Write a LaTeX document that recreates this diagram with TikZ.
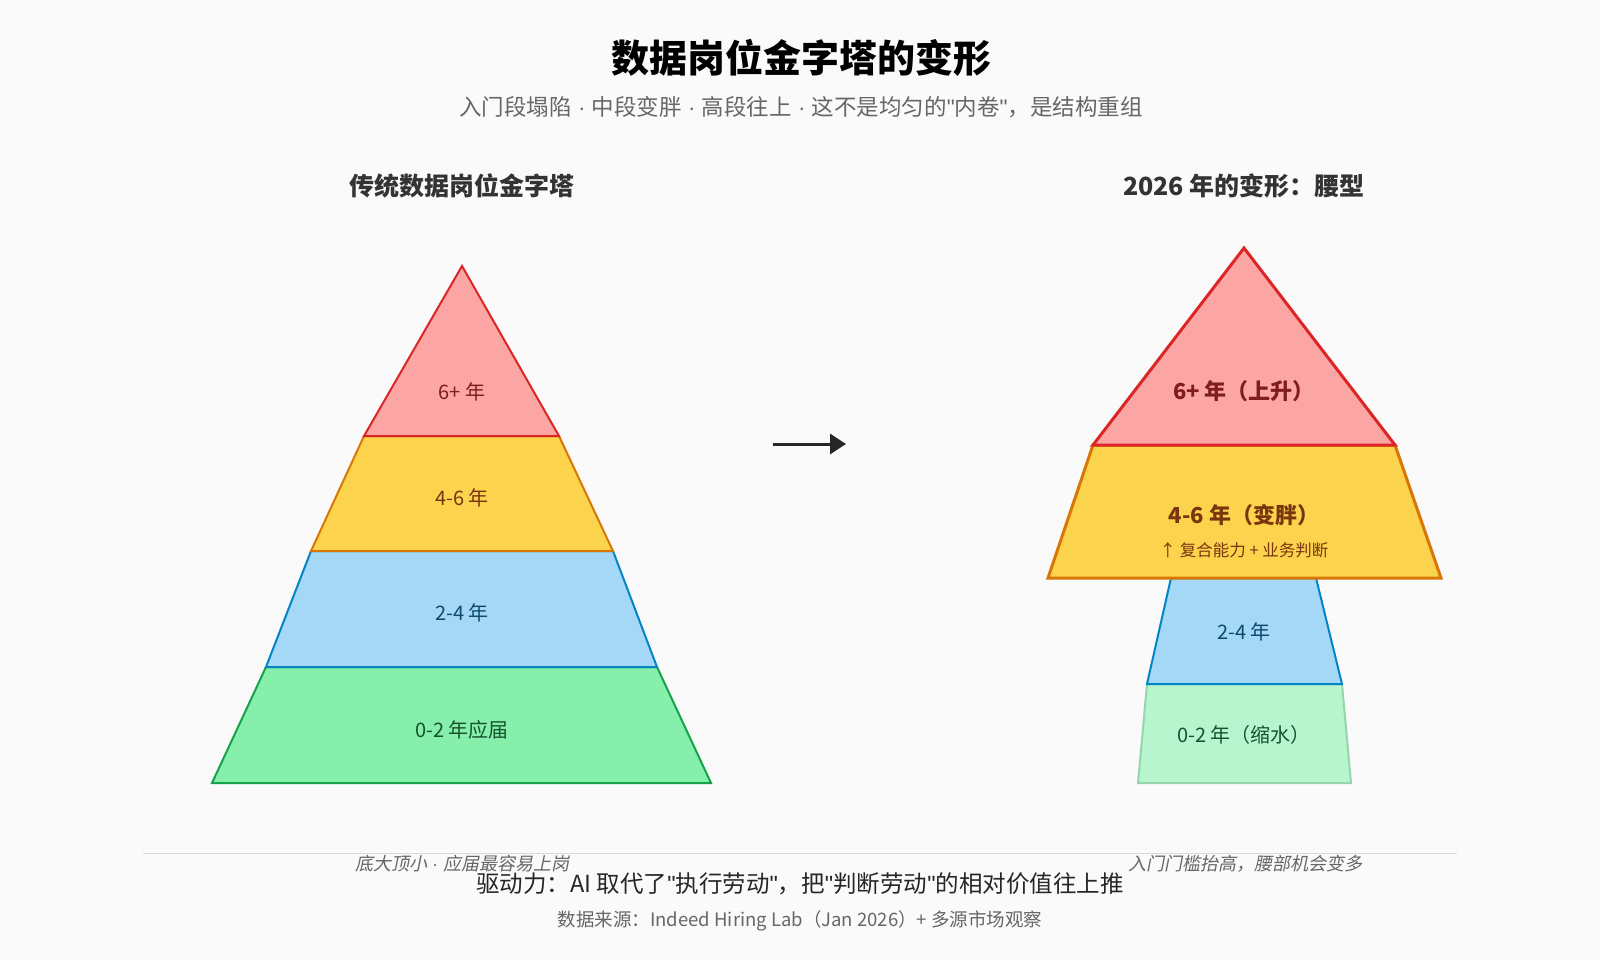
\documentclass[tikz,border=0pt]{standalone}
\usepackage{fontspec}
\setmainfont{Noto Sans CJK SC}
\newfontfamily\slantfont[FakeSlant=0.2]{Noto Sans CJK SC}
\newfontfamily\latinfont{Liberation Sans}
\newcommand\qt{{\latinfont\symbol{34}}}
\newcommand\mdot{{\latinfont\ \textperiodcentered\ }}
\usetikzlibrary{arrows.meta}
\definecolor{bgc}{HTML}{FAFAFA}
\definecolor{redf}{HTML}{FCA5A5}\definecolor{redd}{HTML}{DC2626}\definecolor{redt}{HTML}{7F1D1D}
\definecolor{yelf}{HTML}{FCD34D}\definecolor{yeld}{HTML}{D97706}\definecolor{yelt}{HTML}{78350F}
\definecolor{bluf}{HTML}{A5D8F7}\definecolor{blud}{HTML}{0284C7}\definecolor{blut}{HTML}{0C4A6E}
\definecolor{grnf}{HTML}{86EFAC}\definecolor{grnd}{HTML}{16A34A}\definecolor{grnt}{HTML}{14532D}
\definecolor{greyt}{HTML}{666666}
\tikzset{
  layer/.style={line width=2pt, line join=miter},
  lbl/.style={font=\fontsize{20}{24}\selectfont},
  head/.style={font=\fontsize{25}{29}\selectfont\bfseries, text=black!80},
  note/.style={font=\fontsize{18}{22}\selectfont\slantfont, text=greyt},
}
\begin{document}
\begin{tikzpicture}[x=1pt, y=-1pt]

	% === FRAME === (((
	\fill[bgc] (0,0) rectangle (1600,960);
	\useasboundingbox (0,0) rectangle (1600,960);
	% )))

	% === TITLES === (((
	\node[font=\fontsize{38}{42}\selectfont\bfseries] (title) at (801,58) {数据岗位金字塔的变形};
	\node[font=\fontsize{22.5}{26}\selectfont, text=greyt] (sub) at (801,107) {入门段塌陷\mdot 中段变胖\mdot 高段往上\mdot 这不是均匀的\qt 内卷\qt ，是结构重组};
	\node[head] (lhead) at (462,186) {传统数据岗位金字塔};
	\node[head] (rhead) at (1244,186) {2026 年的变形：腰型};
	% )))

	% === LEFT PYRAMID === (((
	\filldraw[layer, fill=grnf, draw=grnd] (266,667) -- (657,667) -- (711,783) -- (212,783) -- cycle;
	\filldraw[layer, fill=bluf, draw=blud] (311,551) -- (613,551) -- (657,667) -- (266,667) -- cycle;
	\filldraw[layer, fill=yelf, draw=yeld] (364,436) -- (559,436) -- (613,551) -- (311,551) -- cycle;
	\filldraw[layer, fill=redf, draw=redd] (462,266) -- (559,436) -- (364,436) -- cycle;

	\node[lbl, text=redt] (l6) at (462,392) {6+ 年};
	\node[lbl, text=yelt] (l4) at (462,498) {4-6 年};
	\node[lbl, text=blut] (l2) at (462,613) {2-4 年};
	\node[lbl, text=grnt] (l0) at (462,730) {0-2 年应届};
	% )))

	% === ARROW === (((
	\coordinate (afrom) at (773,444);
	\coordinate (ato) at (846,444);
	\draw[line width=3pt, -{Triangle[length=16pt,width=20pt]}, black!85] (afrom) -- (ato);
	% )))

	% === RIGHT SHAPE === (((
	\filldraw[layer, fill=grnf!60, draw=grnd!45] (1147,684) -- (1342,684) -- (1351,783) -- (1138,783) -- cycle;
	\filldraw[layer, fill=bluf, draw=blud] (1171,578) -- (1316,578) -- (1342,684) -- (1147,684) -- cycle;
	\filldraw[layer, line width=3pt, fill=yelf, draw=yeld] (1093,445) -- (1395,445) -- (1441,578) -- (1048,578) -- cycle;
	\filldraw[layer, line width=3pt, fill=redf, draw=redd] (1244,248) -- (1395,445) -- (1093,445) -- cycle;

	\node[lbl, font=\fontsize{22}{26}\selectfont\bfseries, text=redt] (r6) at (1244,391) {6+ 年（上升）};
	\node[lbl, font=\fontsize{22}{26}\selectfont\bfseries, text=yelt] (r4) at (1244,515) {4-6 年（变胖）};
	\node[font=\fontsize{16.5}{20}\selectfont, text=yelt] (r4n) at (1244,550) {↑ 复合能力 + 业务判断};
	\node[lbl, text=blut] (r2) at (1244,632) {2-4 年};
	\node[lbl, text=grnt] (r0) at (1244,735) {0-2 年（缩水）};
	% )))

	% === FOOTER === (((
	\coordinate (rulel) at (143,853);
	\coordinate (ruler) at (1457,853);
	\draw[black!15, line width=1pt] (rulel) -- (ruler);
	\node[note] (lnote) at (462,864) {底大顶小{\latinfont\ \textperiodcentered\ }应届最容易上岗};
	\node[note] (rnote) at (1245,864) {入门门槛抬高，腰部机会变多};
	\node[font=\fontsize{23.5}{27}\selectfont, text=black!85] (drive) at (800,884) {驱动力：AI 取代了\qt 执行劳动\qt ，把\qt 判断劳动\qt 的相对价值往上推};
	\node[font=\fontsize{18.5}{22}\selectfont, text=greyt] (src) at (800,921) {数据来源：Indeed Hiring Lab（Jan 2026）+ 多源市场观察};
	% )))

\end{tikzpicture}
\end{document}
